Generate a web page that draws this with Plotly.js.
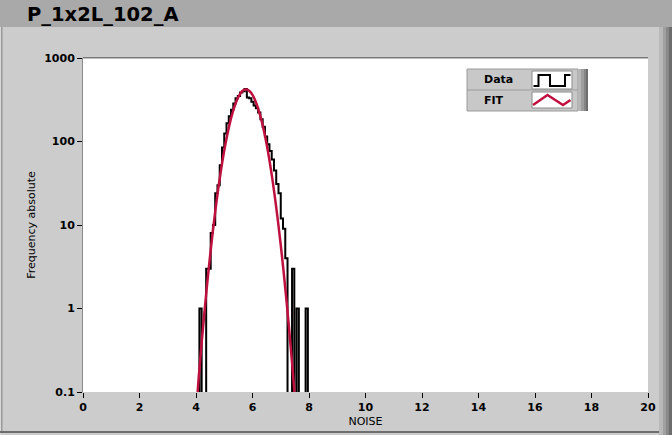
<!DOCTYPE html>
<html>
<head>
<meta charset="utf-8">
<script src="https://cdn.plot.ly/plotly-3.0.1.min.js"></script>
<style>
  html, body { margin: 0; padding: 0; background: #cccccc; }
  #chart { width: 672px; height: 435px; }
</style>
</head>
<body>
<div id="chart"></div>
<script>
// ---------------- data ----------------
// histogram bin edges (NOISE) and counts per bin
const binEdges = [4.04, 4.12, 4.20, 4.28, 4.36, 4.44, 4.52, 4.60, 4.68, 4.76,
                  4.84, 4.92, 5.00, 5.08, 5.16, 5.24, 5.32, 5.40, 5.48, 5.56,
                  5.64, 5.72, 5.80, 5.88, 5.96, 6.04, 6.12, 6.20, 6.28, 6.36,
                  6.44, 6.52, 6.60, 6.68, 6.76, 6.84, 6.92, 7.00, 7.08, 7.16,
                  7.24, 7.32, 7.40, 7.48, 7.56, 7.64, 7.72, 7.80, 7.88, 7.96, 8.04];
const binCounts = [0, 1, 0, 0, 3, 3, 8, 10, 24, 30,
                   52, 85, 125, 165, 200, 240, 285, 330, 350, 387,
                   400, 425, 337, 330, 300, 270, 250, 222, 185, 150,
                   115, 93, 77, 61, 45, 31, 24, 12, 9, 4,
                   0, 0, 3, 0, 1, 0, 0, 0, 1, 0];
// fit curve
const fitX = [4.0, 4.1, 4.2, 4.3, 4.4, 4.5, 4.6, 4.7, 4.8, 4.9, 5.0,
              5.1, 5.2, 5.3, 5.4, 5.5, 5.6, 5.7, 5.8, 5.9, 6.0,
              6.1, 6.2, 6.3, 6.4, 6.5, 6.6, 6.7, 6.8, 6.9, 7.0,
              7.1, 7.2, 7.3, 7.4, 7.5, 7.6];
const fitY = [0.055, 0.155, 0.39, 0.92, 2.06, 4.34, 8.67, 16.4, 29.2, 49.1, 78.2,
              117, 167, 224, 285, 341, 387, 414, 419, 400, 361,
              308, 248, 189, 136, 92.7, 59.6, 36.2, 20.7, 11.2, 5.76,
              2.79, 1.28, 0.551, 0.225, 0.087, 0.031];
const xTickVals = [0, 2, 4, 6, 8, 10, 12, 14, 16, 18, 20];
const yTickVals = [0.1, 1, 10, 100, 1000];
const yTickText = ['0.1', '1', '10', '100', '1000'];
const seriesNames = ['Data', 'FIT'];
const chartTitle = 'P_1x2L_102_A';

// ---------------- layout helpers (pixel -> paper) ----------------
const W = 672, H = 435;
const L = 83, R = 24, T = 58, B = 43;
const PW = W - L - R, PH = H - T - B;
const X = px => (px - L) / PW;
const Y = py => (H - B - py) / PH;

// step line: zero counts go below the visible range
const stepY = binCounts.concat([binCounts[binCounts.length - 1]]).map(v => v > 0 ? v : 1e-3);

const traces = [
  {
    x: binEdges, y: stepY, type: 'scatter', mode: 'lines',
    line: {shape: 'hv', color: '#000000', width: 2},
    name: seriesNames[0], hoverinfo: 'skip'
  },
  {
    x: fitX, y: fitY, type: 'scatter', mode: 'lines',
    line: {shape: 'spline', color: '#c0103f', width: 2.5},
    name: seriesNames[1], hoverinfo: 'skip'
  }
];

function rect(x0, y0, x1, y1, fill, line, layer) {
  return {type: 'rect', xref: 'paper', yref: 'paper',
          x0: X(x0), x1: X(x1), y0: Y(y1), y1: Y(y0),
          fillcolor: fill, line: line ? {color: line, width: 1} : {width: 0},
          layer: layer || 'above'};
}
function path(pts, color, width) {
  const d = pts.map((p, i) => (i ? 'L' : 'M') + X(p[0]) + ',' + Y(p[1])).join(' ');
  return {type: 'path', xref: 'paper', yref: 'paper', path: d,
          line: {color: color, width: width}, layer: 'above'};
}

const shapes = [
  // title bar
  rect(0, 0, 672, 27, '#a9a9a9', null, 'below'),
  // left edge
  rect(0, 27, 1, 435, '#d8d8d8', null, 'below'),
  rect(1, 27, 2.5, 432, '#9a9a9a', null, 'below'),
  // bottom edge
  rect(0, 431, 662, 433, '#6e6e6e', null, 'below'),
  // right 3D edge
  rect(659, 27, 663, 435, '#b8b8b8', null, 'below'),
  rect(663, 27, 666, 435, '#a0a0a0', null, 'below'),
  rect(666, 27, 669, 435, '#888888', null, 'below'),
  rect(669, 27, 672, 435, '#6c6c6c', null, 'below'),
  // plot area top border
  rect(83, 57, 648, 58.5, '#7a7a7a', null, 'above'),
  // legend box
  rect(467, 69, 578, 111, '#c8c8c8', '#9a9a9a'),
  rect(578, 69, 581, 111, '#b6b6b6'),
  rect(581, 69, 584, 111, '#9e9e9e'),
  rect(584, 69, 586, 111, '#858585'),
  rect(586, 69, 588, 111, '#6e6e6e'),
  rect(467, 89.5, 578, 90.5, '#9a9a9a'),
  rect(532, 71, 572, 89, '#ffffff', '#8a8a8a'),
  rect(532, 92, 572, 108, '#ffffff', '#8a8a8a'),
  path([[533.5, 86], [538.5, 86], [538.5, 75], [550, 75], [550, 86], [565, 86], [565, 75], [570.5, 75]], '#000000', 2),
  path([[533, 105], [547.5, 95], [563, 105], [570.5, 100]], '#c0103f', 2.5)
];

const annotations = [
  {text: seriesNames[0], xref: 'paper', yref: 'paper', x: X(482), y: Y(80),
   xanchor: 'left', yanchor: 'middle', showarrow: false,
   font: {family: 'DejaVu Sans', size: 11, color: '#000', weight: 'bold'}},
  {text: seriesNames[1], xref: 'paper', yref: 'paper', x: X(482), y: Y(100.5),
   xanchor: 'left', yanchor: 'middle', showarrow: false,
   font: {family: 'DejaVu Sans', size: 11, color: '#000', weight: 'bold'}}
];

const layout = {
  width: W, height: H,
  margin: {l: L, r: R, t: T, b: B, pad: 0},
  paper_bgcolor: '#cccccc',
  plot_bgcolor: '#ffffff',
  showlegend: false,
  title: {
    text: chartTitle, xref: 'container', yref: 'container',
    x: 27 / W, xanchor: 'left', y: 1 - 14 / H, yanchor: 'middle',
    font: {family: 'DejaVu Sans', size: 19.5, color: '#000', weight: 'bold'}
  },
  xaxis: {
    range: [0, 20], tickvals: xTickVals, ticktext: xTickVals.map(String),
    showgrid: false, zeroline: false, showline: false,
    ticks: 'outside', ticklen: 5, tickwidth: 1, tickcolor: '#000',
    tickfont: {family: 'DejaVu Sans', size: 11, color: '#000', weight: 'bold'},
    title: {text: 'NOISE', standoff: 4,
            font: {family: 'DejaVu Sans', size: 11, color: '#000'}}
  },
  yaxis: {
    type: 'log', range: [-1, 3], tickvals: yTickVals, ticktext: yTickText,
    showgrid: false, zeroline: false, showline: true, linecolor: '#8a8a8a', linewidth: 1,
    ticks: 'outside', ticklen: 5, tickwidth: 1, tickcolor: '#000',
    tickfont: {family: 'DejaVu Sans', size: 11, color: '#000', weight: 'bold'},
    title: {text: 'Frequency absolute', standoff: 6,
            font: {family: 'DejaVu Sans', size: 11, color: '#000'}}
  },
  shapes: shapes,
  annotations: annotations
};

Plotly.newPlot('chart', traces, layout, {staticPlot: true, displayModeBar: false});
</script>
</body>
</html>
